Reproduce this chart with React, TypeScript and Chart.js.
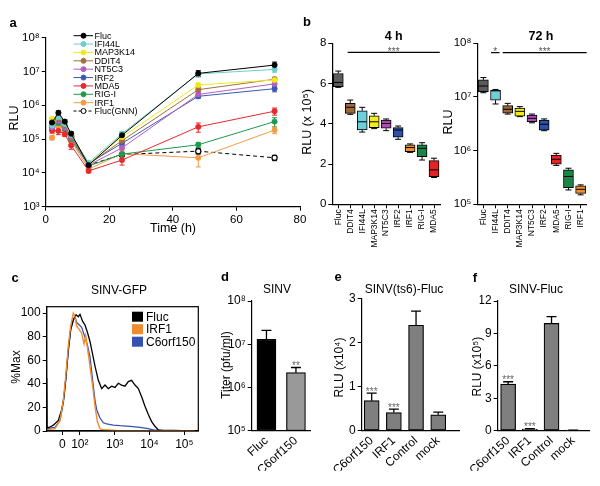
import React, { useEffect, useRef } from 'react';
import { Chart, registerables } from 'chart.js';

Chart.register(...registerables);

const CW = 600;
const CH = 486;
const FONT = "'Liberation Sans', Arial, Helvetica, sans-serif";
Chart.defaults.font.family = FONT;

// ===== Panel a : RLU over time =====
const timeHours = [2, 4, 6, 8, 13.5, 24, 48, 72];
const aNames = ['Fluc', 'IFI44L', 'MAP3K14', 'DDIT4', 'NT5C3', 'IRF2', 'MDA5', 'RIG-I', 'IRF1', 'Fluc(GNN)'];
const aColors = ['#000000', '#6dcfcf', '#eeea1e', '#a26f3d', '#b25fc2', '#3b59b3', '#e8292c', '#1d9a4b', '#f59b45', '#000000'];
const aFluc = [3.1e5, 6.0e5, 3.3e5, 1.45e5, 1.7e4, 1.3e5, 8.8e6, 1.55e7];
const aIFI44L = [2.5e5, 4.5e5, 2.8e5, 1.3e5, 2.0e4, 1.45e5, 8.5e6, 1.15e7];
const aMAP3K14 = [4.0e5, 5.0e5, 3.0e5, 1.4e5, 1.9e4, 1.15e5, 4.0e6, 5.6e6];
const aDDIT4 = [3.0e5, 4.0e5, 2.6e5, 1.2e5, 1.8e4, 9.0e4, 2.9e6, 5.9e6];
const aNT5C3 = [2.2e5, 3.5e5, 2.2e5, 1.1e5, 1.7e4, 5.5e4, 2.1e6, 4.3e6];
const aIRF2 = [2.3e5, 3.7e5, 2.4e5, 1.2e5, 1.9e4, 7.5e4, 1.85e6, 3.1e6];
const aMDA5 = [1.8e5, 1.75e5, 1.4e5, 6.5e4, 1.15e4, 2.4e4, 2.3e5, 6.7e5];
const aRIGI = [2.0e5, 3.0e5, 2.0e5, 1.0e5, 1.6e4, 3.6e4, 6.8e4, 3.3e5];
const aIRF1 = [1.1e5, 2.5e5, 1.8e5, 9.0e4, 1.3e4, 3.7e4, 2.8e4, 1.85e5];
const aFlucGNN = [2.3e5, 3.8e5, 2.4e5, 1.2e5, 1.7e4, 3.5e4, 4.4e4, 2.8e4];
const aValues = [aFluc, aIFI44L, aMAP3K14, aDDIT4, aNT5C3, aIRF2, aMDA5, aRIGI, aIRF1, aFlucGNN];

const eFluc = [5e4, 8e4, 5e4, 2e4, 3e3, 3e4, 1.8e6, 3.5e6];
const eIFI44L = [3e4, 5e4, 3e4, 1.5e4, 2e3, 2e4, 1e6, 2e6];
const eMAP3K14 = [4e4, 5e4, 3e4, 1.5e4, 2e3, 1.5e4, 5e5, 8e5];
const eDDIT4 = [3e4, 4e4, 3e4, 1.5e4, 2e3, 1e4, 4e5, 9e5];
const eNT5C3 = [2e4, 3e4, 2e4, 1e4, 2e3, 8e3, 3e5, 7e5];
const eIRF2 = [2e4, 4e4, 2e4, 1.5e4, 2e3, 1e4, 2.5e5, 6e5];
const eMDA5 = [3e4, 4e4, 2e4, 1.5e4, 1.5e3, 7e3, 7e4, 1.6e5];
const eRIGI = [2e4, 3e4, 2e4, 1e4, 2e3, 4e3, 1.2e4, 1e5];
const eIRF1 = [1.5e4, 3e4, 2e4, 1e4, 1.5e3, 5e3, 1.3e4, 4e4];
const eFlucGNN = [2e4, 3e4, 2e4, 1e4, 2e3, 5e3, 8e3, 5e3];
const aErrors = [eFluc, eIFI44L, eMAP3K14, eDDIT4, eNT5C3, eIRF2, eMDA5, eRIGI, eIRF1, eFlucGNN];
const aLogTicks = [1e3, 1e4, 1e5, 1e6, 1e7, 1e8];

// ===== Panel b : 4 h box plot (x 10^5) =====
const b4Cats = ['Fluc', 'DDIT4', 'IFI44L', 'MAP3K14', 'NT5C3', 'IRF2', 'IRF1', 'RIG-I', 'MDA5'];
const b4Colors = ['#5c5c5c', '#9c6a34', '#6ccfda', '#f2ee1a', '#b04cb4', '#2f50a8', '#f0902e', '#1c8444', '#e42424'];
const b4Min = [5.81, 4.47, 3.59, 3.76, 3.66, 3.23, 2.58, 2.2, 1.33];
const b4Q1 = [5.85, 4.52, 3.69, 3.81, 3.78, 3.33, 2.62, 2.37, 1.37];
const b4Med = [6.05, 4.82, 4.1, 4.1, 4.02, 3.69, 2.82, 2.78, 1.71];
const b4Q3 = [6.5, 5.02, 4.65, 4.4, 4.19, 3.81, 2.95, 2.95, 2.17];
const b4Max = [6.62, 5.18, 4.82, 4.52, 4.24, 3.89, 3.0, 3.06, 2.29];

// ===== Panel b : 72 h box plot (log) =====
const b72Cats = ['Fluc', 'IFI44L', 'DDIT4', 'MAP3K14', 'NT5C3', 'IRF2', 'MDA5', 'RIG-I', 'IRF1'];
const b72Colors = ['#5c5c5c', '#6ccfda', '#9c6a34', '#f2ee1a', '#b04cb4', '#2f50a8', '#e42424', '#1c8444', '#f0902e'];
const b72Min = [1.2e7, 7.4e6, 4.8e6, 4.3e6, 3.3e6, 2.35e6, 5.3e5, 1.85e5, 1.5e5];
const b72Q1 = [1.26e7, 8.7e6, 5.0e6, 4.4e6, 3.45e6, 2.4e6, 5.6e5, 2.05e5, 1.6e5];
const b72Med = [1.6e7, 1.3e7, 5.9e6, 5.4e6, 4.0e6, 3.1e6, 6.9e5, 3.3e5, 1.9e5];
const b72Q3 = [2.08e7, 1.35e7, 6.9e6, 6.2e6, 4.6e6, 3.7e6, 8.3e5, 4.4e5, 2.2e5];
const b72Max = [2.3e7, 1.38e7, 7.6e6, 6.6e6, 4.8e6, 3.9e6, 8.9e5, 4.7e5, 2.3e5];
const b72LogTicks = [1e5, 1e6, 1e7, 1e8];

// ===== Panel c : SINV-GFP histogram (x in decades) =====
const cFlucX = [1.05, 1.062, 1.12, 1.24, 1.384, 1.48, 1.546, 1.604, 1.67, 1.738, 1.814, 1.891, 1.958, 2.006, 2.082, 2.149, 2.216, 2.292, 2.34, 2.436, 2.531, 2.627, 2.723, 2.818, 2.914, 3.01, 3.105, 3.2, 3.296, 3.392, 3.487, 3.583, 3.679, 3.774, 3.87, 3.966, 4.061, 4.157, 4.252, 4.396, 4.683, 5.257];
const cFlucY = [45, 3, 3, 5, 9, 18, 29, 46, 69, 86, 94, 98.6, 97, 99, 93, 90, 84, 76, 69, 55, 43, 36, 39, 36, 38, 37, 40.5, 39, 38, 42, 43, 39, 36, 29, 21, 14, 8, 4, 1, 0.6, 0.5, 0];
const cIRF1X = [1.05, 1.288, 1.432, 1.527, 1.604, 1.67, 1.738, 1.814, 1.862, 1.91, 1.986, 2.053, 2.12, 2.168, 2.226, 2.292, 2.369, 2.436, 2.503, 2.579, 2.675, 3.058, 3.727, 4.683, 5.3];
const cIRF1Y = [1, 2, 9, 26, 49, 72, 89, 100, 97, 89, 86, 83, 74, 81, 69, 55, 38, 21, 8, 2, 1, 0.5, 0.3, 0.2, 0];
const cC6X = [1.05, 1.288, 1.432, 1.527, 1.604, 1.67, 1.738, 1.814, 1.862, 1.91, 1.986, 2.053, 2.12, 2.168, 2.226, 2.292, 2.388, 2.436, 2.484, 2.579, 2.675, 2.771, 2.962, 3.153, 3.345, 3.536, 3.727, 3.919, 4.11, 4.301, 4.683, 5.257];
const cC6Y = [2, 3, 9, 24, 46, 68, 86, 95, 97, 92, 90, 88, 82, 78, 72, 63, 38, 26, 18, 11, 7, 6, 5, 4.5, 4.2, 3.7, 3.1, 2.3, 1, 0.5, 0.3, 0.1];
const cTickPos = [1.5, 2, 3, 4, 5];
const cTickLabels = ['0', '10²', '10³', '10⁴', '10⁵'];
const cLegend = ['Fluc', 'IRF1', 'C6orf150'];
const cColors = ['#000000', '#f28a2e', '#3552b0'];

// ===== Panel d : SINV titer =====
const dCats = ['Fluc', 'C6orf150'];
const dTiter = [1.3e7, 2.2e6];
const dErr = [8e6, 7e5];
const dSig = ['', '**'];
const dLogTicks = [1e5, 1e6, 1e7, 1e8];

// ===== Panel e : SINV(ts6)-Fluc (x10^4) =====
const efCats = ['C6orf150', 'IRF1', 'Control', 'mock'];
const eRLU = [0.68, 0.41, 2.39, 0.36];
const eErr = [0.17, 0.08, 0.32, 0.06];
const eSig = ['***', '***', '', ''];

// ===== Panel f : SINV-Fluc (x10^5) =====
const fRLU = [4.32, 0.15, 9.93, 0.03];
const fErr = [0.21, 0.03, 0.62, 0.01];
const fSig = ['***', '***', '', ''];

// ---------- helpers ----------
const SUP: Record<string, string> = { '0': '⁰', '1': '¹', '2': '²', '3': '³', '4': '⁴', '5': '⁵', '6': '⁶', '7': '⁷', '8': '⁸', '9': '⁹' };
const pow10Label = (v: number) => '10' + String(Math.round(Math.log10(v))).split('').map((c) => SUP[c] || c).join('');

function text(ctx: any, s: string, x: number, y: number, size: number, o: any = {}) {
  ctx.save();
  ctx.font = `${o.bold ? 'bold ' : ''}${size}px ${FONT}`;
  ctx.fillStyle = o.color || '#000';
  ctx.textAlign = o.align || 'center';
  ctx.textBaseline = o.baseline || 'middle';
  ctx.translate(x, y);
  if (o.rotate) ctx.rotate(o.rotate);
  ctx.fillText(s, 0, 0);
  ctx.restore();
}
const UP = -Math.PI / 2;

function axis(size: number, opts: any = {}, ticks: any = {}, marks = true) {
  return {
    grid: { display: marks, drawOnChartArea: false, drawTicks: marks, tickLength: 4, color: '#000', lineWidth: 1, offset: false },
    border: { display: true, color: '#000', width: 1.2 },
    ticks: { color: '#000', font: { family: FONT, size }, padding: 2, autoSkip: false, minRotation: 0, maxRotation: 0, ...ticks },
    ...opts,
  };
}
const fixY = (w: number) => (s: any) => { s.width = w; s.paddingTop = 0; s.paddingBottom = 0; s.paddingLeft = 0; s.paddingRight = 0; };
const fixX = (h: number) => (s: any) => { s.height = h; s.paddingLeft = 0; s.paddingRight = 0; s.paddingTop = 0; s.paddingBottom = 0; };
const pad = (l: number, t: number, r: number, b: number, yW: number, xH: number) => ({ left: l - yW, top: t, right: CW - r, bottom: CH - b - xH });
const setTicks = (vals: number[]) => (s: any) => { s.ticks = vals.map((v) => ({ value: v })); };

function base(type: string, data: any, scales: any, padding: any, draw: any, before?: any) {
  return {
    type,
    data,
    options: {
      responsive: false,
      maintainAspectRatio: false,
      animation: false,
      events: [],
      layout: { padding },
      scales,
      plugins: { legend: { display: false }, tooltip: { enabled: false } },
    },
    plugins: [{
      id: 'decor',
      beforeDatasetsDraw: (c: any) => { if (before) { c.ctx.save(); before(c, c.ctx); c.ctx.restore(); } },
      afterDraw: (c: any) => { c.ctx.save(); draw(c, c.ctx); c.ctx.restore(); },
    }],
  };
}

function drawBoxes(c: any, ctx: any, mins: number[], q1: number[], meds: number[], q3: number[], maxs: number[]) {
  const meta = c.getDatasetMeta(0);
  const ys = c.scales.y;
  ctx.strokeStyle = '#000';
  ctx.lineWidth = 1;
  mins.forEach((mn, i) => {
    const el = meta.data[i];
    const x = el.x;
    const half = el.width / 2;
    const pMin = ys.getPixelForValue(mn);
    const pMax = ys.getPixelForValue(maxs[i]);
    const pQ1 = ys.getPixelForValue(q1[i]);
    const pQ3 = ys.getPixelForValue(q3[i]);
    const pMed = ys.getPixelForValue(meds[i]);
    ctx.beginPath();
    ctx.moveTo(x, pQ3); ctx.lineTo(x, pMax);
    ctx.moveTo(x - 3, pMax); ctx.lineTo(x + 3, pMax);
    ctx.moveTo(x, pQ1); ctx.lineTo(x, pMin);
    ctx.moveTo(x - 3, pMin); ctx.lineTo(x + 3, pMin);
    ctx.stroke();
    ctx.beginPath();
    ctx.moveTo(x - half + 0.5, pMed); ctx.lineTo(x + half - 0.5, pMed);
    ctx.stroke();
  });
}

function drawBarErrors(c: any, ctx: any, vals: number[], errs: number[], sigs: string[]) {
  const meta = c.getDatasetMeta(0);
  const ys = c.scales.y;
  vals.forEach((v, i) => {
    const x = meta.data[i].x;
    const pTop = ys.getPixelForValue(v);
    const pErr = ys.getPixelForValue(v + errs[i]);
    ctx.strokeStyle = '#000';
    ctx.lineWidth = 1.3;
    ctx.beginPath();
    ctx.moveTo(x, pTop); ctx.lineTo(x, pErr);
    ctx.moveTo(x - 5, pErr); ctx.lineTo(x + 5, pErr);
    ctx.stroke();
    if (sigs[i]) text(ctx, sigs[i], x, pErr + 1.5, 10, { baseline: 'alphabetic', color: '#666' });
  });
}

// ---------- chart configs ----------
function configA() {
  const datasets = aNames.map((name, i) => ({
    label: name,
    data: timeHours.map((t, j) => ({ x: t, y: aValues[i][j] })),
    borderColor: aColors[i],
    backgroundColor: i === 9 ? '#ffffff' : aColors[i],
    pointBackgroundColor: i === 9 ? '#ffffff' : aColors[i],
    pointBorderColor: aColors[i],
    borderWidth: 1,
    borderDash: i === 9 ? [4, 3] : [],
    pointRadius: 2.6,
    pointBorderWidth: i === 9 ? 1.2 : 0.8,
    tension: 0,
  }));
  const scales = {
    x: axis(11.5, { type: 'linear', min: 0, max: 80, afterFit: fixX(20) }, { stepSize: 20 }),
    y: axis(11.5, { type: 'logarithmic', min: 1e3, max: 1e8, afterBuildTicks: setTicks(aLogTicks), afterFit: fixY(40) }, { callback: (v: any) => pow10Label(Number(v)) }),
  };
  const before = (c: any, ctx: any) => {
    const ys = c.scales.y;
    aValues.forEach((vals, di) => {
      const meta = c.getDatasetMeta(di);
      ctx.strokeStyle = aColors[di];
      ctx.lineWidth = 1;
      vals.forEach((v, j) => {
        const e = aErrors[di][j];
        const px = meta.data[j].x;
        const top = ys.getPixelForValue(v + e);
        const bot = ys.getPixelForValue(Math.max(v - e, v * 0.05));
        ctx.beginPath();
        ctx.moveTo(px, top); ctx.lineTo(px, bot);
        ctx.moveTo(px - 2.5, top); ctx.lineTo(px + 2.5, top);
        ctx.moveTo(px - 2.5, bot); ctx.lineTo(px + 2.5, bot);
        ctx.stroke();
      });
    });
  };
  const draw = (c: any, ctx: any) => {
    text(ctx, 'a', 13, 23, 13, { bold: true });
    text(ctx, 'RLU', 15, 118, 12.5, { rotate: UP });
    text(ctx, 'Time (h)', 173, 229, 12.5);
    aNames.forEach((n, i) => {
      const y = 35.7 + i * 8.37;
      ctx.strokeStyle = aColors[i];
      ctx.lineWidth = 1;
      ctx.setLineDash(i === 9 ? [3, 2] : []);
      ctx.beginPath(); ctx.moveTo(73.5, y); ctx.lineTo(93, y); ctx.stroke();
      ctx.setLineDash([]);
      ctx.beginPath(); ctx.arc(83.5, y, 2.5, 0, Math.PI * 2);
      ctx.fillStyle = i === 9 ? '#ffffff' : aColors[i];
      ctx.fill(); ctx.stroke();
      text(ctx, n, 94.5, y + 0.5, 9, { align: 'left' });
    });
  };
  return base('line', { datasets }, scales, pad(45.7, 37.7, 300, 206.7, 40, 20), draw, before);
}

function configB4() {
  const data = {
    labels: b4Cats,
    datasets: [{
      data: b4Cats.map((_, i) => [b4Q1[i], b4Q3[i]]),
      backgroundColor: b4Colors,
      borderColor: '#000',
      borderWidth: 1,
      borderSkipped: false,
      barThickness: 10,
    }],
  };
  const scales = {
    x: axis(8.5, { type: 'category', afterFit: fixX(50) }, { minRotation: 90, maxRotation: 90, padding: 1 }),
    y: axis(11.5, { type: 'linear', min: 0, max: 8, afterFit: fixY(22) }, { stepSize: 2 }),
  };
  const draw = (c: any, ctx: any) => {
    drawBoxes(c, ctx, b4Min, b4Q1, b4Med, b4Q3, b4Max);
    const xs = c.scales.x; const ys = c.scales.y;
    const yl = ys.getPixelForValue(7.55);
    const x0 = xs.getPixelForValue(1) - 2.6; const x1 = xs.getPixelForValue(8) + 5.7;
    ctx.strokeStyle = '#000'; ctx.lineWidth = 1.2;
    ctx.beginPath(); ctx.moveTo(x0, yl); ctx.lineTo(x1, yl); ctx.stroke();
    text(ctx, '***', (x0 + x1) / 2, yl + 2.5, 10, { baseline: 'alphabetic', color: '#555' });
    text(ctx, '4 h', (x0 + x1) / 2, 36.5, 12.5, { bold: true });
    text(ctx, 'b', 307, 22, 13, { bold: true });
    text(ctx, 'RLU (x 10⁵)', 308, 122, 12.5, { rotate: UP });
  };
  return base('bar', data, scales, pad(332.3, 43.3, 440, 204.3, 22, 50), draw);
}

function configB72() {
  const data = {
    labels: b72Cats,
    datasets: [{
      data: b72Cats.map((_, i) => [b72Q1[i], b72Q3[i]]),
      backgroundColor: b72Colors,
      borderColor: '#000',
      borderWidth: 1,
      borderSkipped: false,
      barThickness: 10,
    }],
  };
  const scales = {
    x: axis(8.5, { type: 'category', afterFit: fixX(50) }, { minRotation: 90, maxRotation: 90, padding: 1 }),
    y: axis(11.5, { type: 'logarithmic', min: 1e5, max: 1e8, afterBuildTicks: setTicks(b72LogTicks), afterFit: fixY(26) }, { callback: (v: any) => pow10Label(Number(v)) }),
  };
  const draw = (c: any, ctx: any) => {
    drawBoxes(c, ctx, b72Min, b72Q1, b72Med, b72Q3, b72Max);
    const xs = c.scales.x; const ys = c.scales.y;
    const yl = ys.getPixelForValue(6.7e7);
    ctx.strokeStyle = '#000'; ctx.lineWidth = 1.2;
    const s0 = xs.getPixelForValue(1) - 4.5; const s1 = xs.getPixelForValue(1) + 4;
    ctx.beginPath(); ctx.moveTo(s0, yl); ctx.lineTo(s1, yl); ctx.stroke();
    text(ctx, '*', (s0 + s1) / 2, yl + 2.5, 10, { baseline: 'alphabetic', color: '#555' });
    const x0 = xs.getPixelForValue(2) - 5; const x1 = xs.getPixelForValue(8) + 6;
    ctx.beginPath(); ctx.moveTo(x0, yl); ctx.lineTo(x1, yl); ctx.stroke();
    text(ctx, '***', (x0 + x1) / 2, yl + 2.5, 10, { baseline: 'alphabetic', color: '#555' });
    text(ctx, '72 h', 541, 36.5, 12.5, { bold: true });
    text(ctx, 'RLU', 449, 122, 12.5, { rotate: UP });
  };
  return base('bar', data, scales, pad(477.3, 43.3, 586.7, 204.3, 26, 50), draw);
}

function configC() {
  const mk = (xs: number[], ys: number[], color: string, w: number) => ({
    data: xs.map((x, i) => ({ x, y: ys[i] })),
    borderColor: color,
    borderWidth: w,
    pointRadius: 0,
    tension: 0,
    fill: false,
  });
  const datasets = [
    mk(cIRF1X, cIRF1Y, cColors[1], 1.4),
    mk(cFlucX, cFlucY, cColors[0], 1.3),
    mk(cC6X, cC6Y, cColors[2], 1.3),
  ];
  const scales = {
    x: axis(12, { type: 'linear', min: 1.05, max: 5.4, afterBuildTicks: setTicks(cTickPos), afterFit: fixX(20) }, { callback: (v: any) => cTickLabels[cTickPos.indexOf(Number(v))] }),
    y: axis(12, { type: 'linear', min: 0, max: 105.5, afterBuildTicks: setTicks([0, 20, 40, 60, 80, 100]), afterFit: fixY(26) }),
  };
  const draw = (c: any, ctx: any) => {
    const a = c.chartArea;
    ctx.strokeStyle = '#000'; ctx.lineWidth = 1.2;
    ctx.strokeRect(a.left, a.top, a.right - a.left, a.bottom - a.top);
    cLegend.forEach((n, i) => {
      const y = 316.7 + i * 12.5;
      ctx.fillStyle = cColors[i];
      ctx.fillRect(132, y - 5, 11, 10);
      text(ctx, n, 146, y + 0.5, 12, { align: 'left' });
    });
    text(ctx, 'c', 15, 278, 13, { bold: true });
    text(ctx, 'SINV-GFP', 119, 290.5, 12);
    text(ctx, '%Max', 16.7, 367, 12, { rotate: UP });
  };
  return base('line', { datasets }, scales, pad(46.7, 306.7, 198.3, 431, 26, 20), draw);
}

function configD() {
  const data = {
    labels: dCats,
    datasets: [{
      data: dTiter,
      backgroundColor: ['#000000', '#999999'],
      borderColor: '#000',
      borderWidth: 1.2,
      borderSkipped: false,
      barThickness: 19,
    }],
  };
  const scales = {
    x: axis(12, { type: 'category', afterFit: fixX(40) }, { minRotation: 42, maxRotation: 42, padding: 3 }, false),
    y: axis(12, { type: 'logarithmic', min: 1e5, max: 1e8, afterBuildTicks: setTicks(dLogTicks), afterFit: fixY(26) }, { callback: (v: any) => pow10Label(Number(v)) }),
  };
  const draw = (c: any, ctx: any) => {
    drawBarErrors(c, ctx, dTiter, dErr, dSig);
    text(ctx, 'd', 225, 277, 13, { bold: true });
    text(ctx, 'SINV', 277, 290, 12);
    text(ctx, 'Titer (pfu/ml)', 227, 365, 12, { rotate: UP });
  };
  return base('bar', data, scales, pad(251.7, 301, 310.7, 430.7, 26, 40), draw);
}

function barLinear(vals: number[], xmin: number, xmax: number, ymax: number, step: number, area: number[], yW: number) {
  const data = {
    datasets: [{
      data: vals.map((v, i) => ({ x: i, y: v })),
      backgroundColor: '#7f7f7f',
      borderColor: '#000',
      borderWidth: 1.2,
      borderSkipped: false,
      barThickness: 15,
    }],
  };
  const scales = {
    x: axis(12, { type: 'linear', offset: false, min: xmin, max: xmax, afterBuildTicks: setTicks([0, 1, 2, 3]), afterFit: fixX(40) }, { minRotation: 42, maxRotation: 42, padding: 3, callback: (v: any) => efCats[Number(v)] }, false),
    y: axis(12, { type: 'linear', min: 0, max: ymax, afterFit: fixY(yW) }, { stepSize: step }),
  };
  return { data, scales, padding: pad(area[0], area[1], area[2], area[3], yW, 40) };
}

function configE() {
  const b = barLinear(eRLU, -0.45, 3.95, 3, 1, [361.7, 298.3, 459.3, 430.7], 14);
  const draw = (c: any, ctx: any) => {
    drawBarErrors(c, ctx, eRLU, eErr, eSig);
    text(ctx, 'e', 338, 277, 13, { bold: true });
    text(ctx, 'SINV(ts6)-Fluc', 404, 290, 12);
    text(ctx, 'RLU (x10⁴)', 340, 367.5, 12, { rotate: UP });
  };
  return base('bar', b.data, b.scales, b.padding, draw);
}

function configF() {
  const b = barLinear(fRLU, -0.48, 3.74, 12, 3, [497.7, 301, 589.3, 430.7], 18);
  const draw = (c: any, ctx: any) => {
    drawBarErrors(c, ctx, fRLU, fErr, fSig);
    text(ctx, 'f', 475, 278, 13, { bold: true });
    text(ctx, 'SINV-Fluc', 536, 290, 12);
    text(ctx, 'RLU (x10⁵)', 477.3, 366.7, 12, { rotate: UP });
  };
  return base('bar', b.data, b.scales, b.padding, draw);
}

const builders = [configA, configB4, configB72, configC, configD, configE, configF];

export default function App() {
  const refs = useRef<(HTMLCanvasElement | null)[]>([]);
  useEffect(() => {
    const charts = builders.map((b, i) => new Chart(refs.current[i] as HTMLCanvasElement, b() as any));
    return () => charts.forEach((c) => c.destroy());
  }, []);
  return (
    <div style={{ position: 'fixed', left: 0, top: 0, width: CW, height: CH, background: '#ffffff' }}>
      {builders.map((_, i) => (
        <canvas
          key={i}
          ref={(el) => { refs.current[i] = el; }}
          width={CW}
          height={CH}
          style={{ position: 'absolute', left: 0, top: 0, width: CW, height: CH }}
        />
      ))}
    </div>
  );
}
